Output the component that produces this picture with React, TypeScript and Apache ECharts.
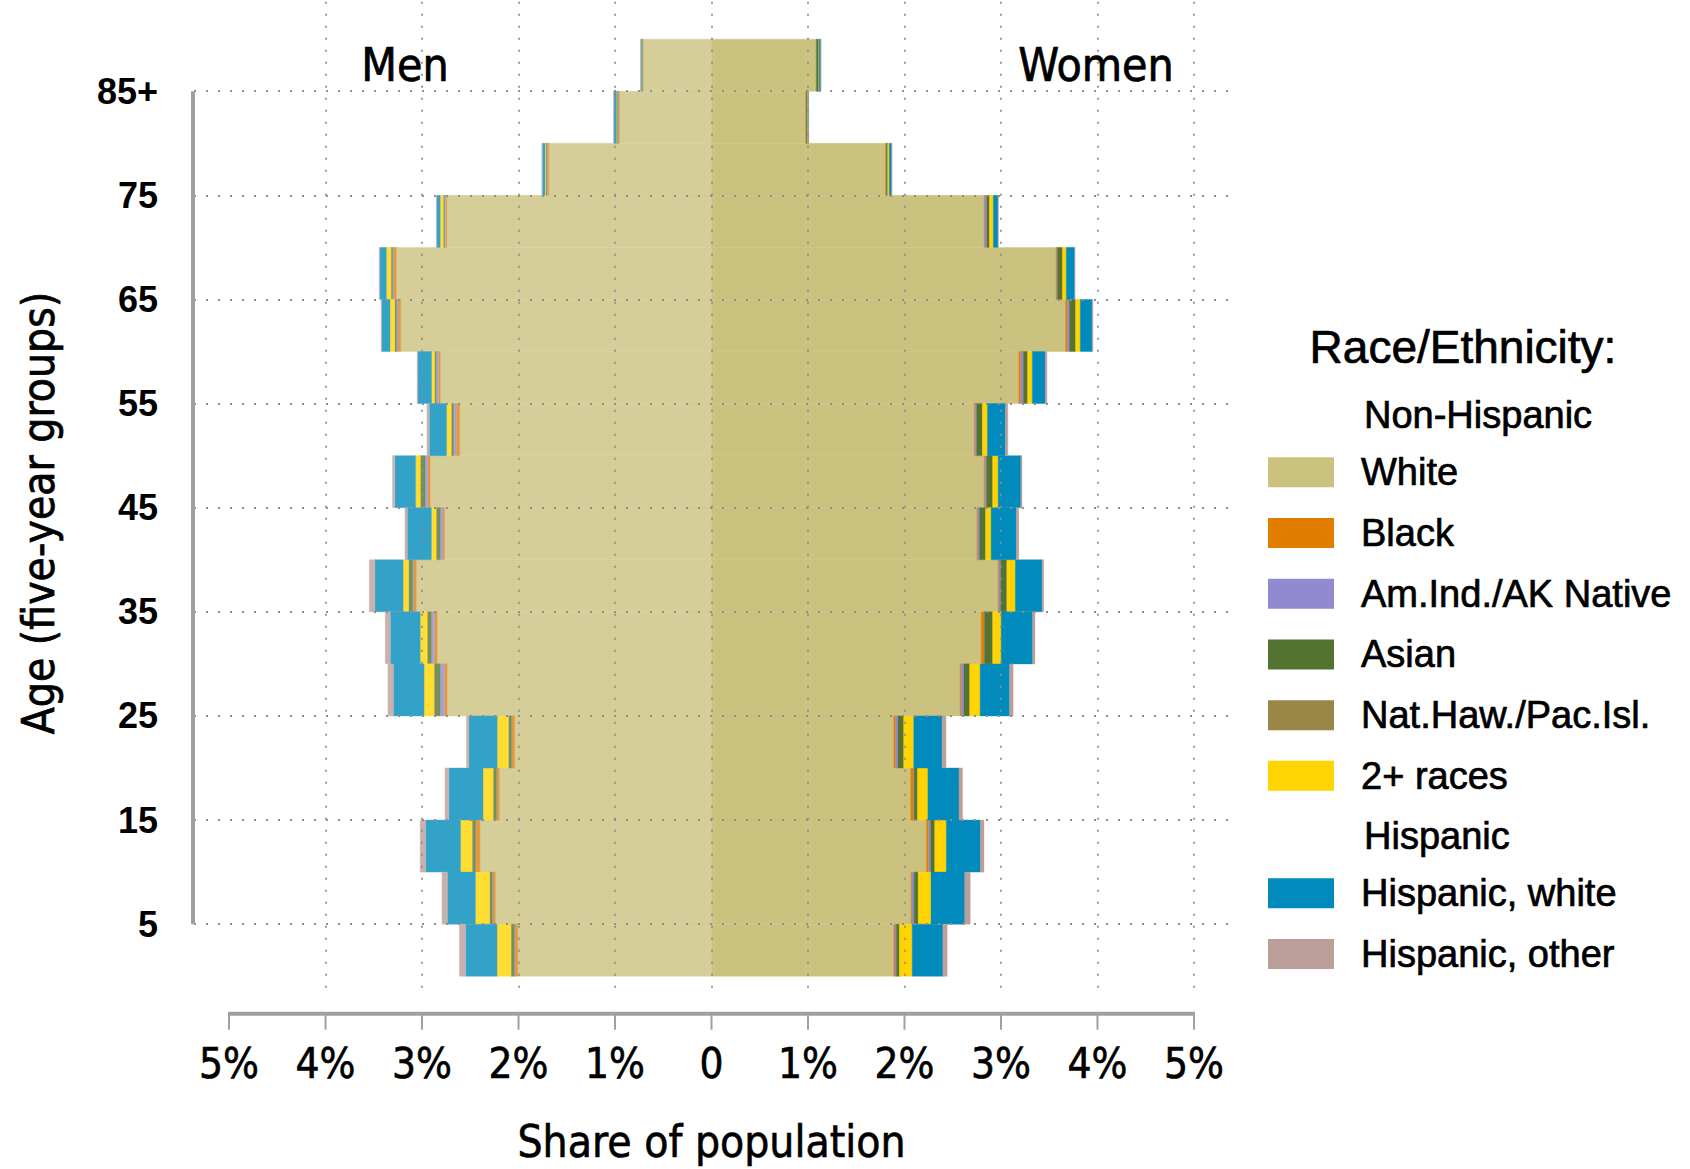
import React, { useEffect, useRef } from "react";
import * as echarts from "echarts";

// ---------- data (percent of total population) ----------
const ageGroups = ["0-4", "5-9", "10-14", "15-19", "20-24", "25-29", "30-34", "35-39", "40-44", "45-49", "50-54", "55-59", "60-64", "65-69", "70-74", "75-79", "80-84", "85+"];
const ageStart = [0, 5, 10, 15, 20, 25, 30, 35, 40, 45, 50, 55, 60, 65, 70, 75, 80, 85];
const ageEnd = [5, 10, 15, 20, 25, 30, 35, 40, 45, 50, 55, 60, 65, 70, 75, 80, 85, 90];

const raceNames = ["White", "Black", "Am.Ind./AK Native", "Asian", "Nat.Haw./Pac.Isl.", "2+ races", "Hispanic, white", "Hispanic, other"];
const raceColors = ["#CAC27E", "#E17E00", "#928AD0", "#537430", "#9A8748", "#FFD400", "#008BBC", "#BC9F99"];

const menWhite = [2.008, 2.24, 2.4, 2.199, 2.04, 2.74, 2.843, 3.06, 2.767, 2.915, 2.61, 2.81, 3.22, 3.268, 2.744, 1.686, 0.954, 0.71];
const menBlack = [0.028, 0.024, 0.04, 0.024, 0.028, 0.028, 0.028, 0.024, 0.016, 0.024, 0.036, 0.02, 0.028, 0.024, 0.012, 0.016, 0.012, 0.006];
const menAmInd = [0.008, 0.008, 0.006, 0.006, 0.006, 0.044, 0.032, 0.012, 0.028, 0.028, 0.028, 0.024, 0.016, 0.012, 0.012, 0.006, 0.004, 0.002];
const menAsian = [0.032, 0.024, 0.032, 0.032, 0.028, 0.06, 0.04, 0.04, 0.04, 0.048, 0.02, 0.012, 0.016, 0.016, 0.01, 0.008, 0.008, 0.006];
const menNatHaw = [0.004, 0.004, 0.004, 0.004, 0.004, 0.004, 0.004, 0.004, 0.004, 0.004, 0.004, 0.004, 0.004, 0.002, 0.002, 0.002, 0.002, 0.001];
const menMulti = [0.143, 0.147, 0.119, 0.103, 0.115, 0.103, 0.072, 0.056, 0.048, 0.048, 0.048, 0.032, 0.048, 0.048, 0.032, 0.008, 0.006, 0.002];
const menHispWhite = [0.326, 0.29, 0.362, 0.354, 0.294, 0.318, 0.31, 0.294, 0.25, 0.215, 0.179, 0.143, 0.087, 0.068, 0.036, 0.028, 0.026, 0.006];
const menHispOther = [0.064, 0.056, 0.056, 0.04, 0.024, 0.056, 0.052, 0.056, 0.024, 0.024, 0.024, 0.006, 0.006, 0.006, 0.004, 0.003, 0.002, 0.001];

const womenWhite = [1.889, 2.068, 2.227, 2.064, 1.889, 2.577, 2.795, 2.97, 2.75, 2.827, 2.724, 3.185, 3.67, 3.571, 2.827, 1.805, 0.978, 1.085];
const womenBlack = [0.012, 0.008, 0.024, 0.032, 0.02, 0.012, 0.032, 0.008, 0.008, 0.008, 0.008, 0.02, 0.02, 0.008, 0.004, 0.004, 0.004, 0.004];
const womenAmInd = [0.016, 0.024, 0.02, 0.004, 0.024, 0.028, 0.004, 0.02, 0.02, 0.016, 0.016, 0.028, 0.02, 0.008, 0.024, 0.004, 0.002, 0.002];
const womenAsian = [0.028, 0.04, 0.04, 0.032, 0.056, 0.056, 0.08, 0.06, 0.06, 0.06, 0.056, 0.04, 0.06, 0.048, 0.024, 0.012, 0.008, 0.02];
const womenNatHaw = [0.004, 0.004, 0.004, 0.004, 0.004, 0.004, 0.004, 0.004, 0.004, 0.004, 0.004, 0.004, 0.004, 0.002, 0.002, 0.002, 0.001, 0.001];
const womenMulti = [0.131, 0.131, 0.119, 0.107, 0.103, 0.107, 0.087, 0.087, 0.056, 0.056, 0.052, 0.048, 0.048, 0.04, 0.04, 0.016, 0.006, 0.004];
const womenHispWhite = [0.318, 0.35, 0.354, 0.322, 0.294, 0.306, 0.326, 0.278, 0.262, 0.235, 0.187, 0.135, 0.123, 0.087, 0.048, 0.024, 0.006, 0.016];
const womenHispOther = [0.044, 0.056, 0.036, 0.036, 0.04, 0.036, 0.024, 0.016, 0.024, 0.012, 0.024, 0.016, 0.008, 0.002, 0.002, 0.002, 0.004, 0.002];

const xTickValues = [-5, -4, -3, -2, -1, 0, 1, 2, 3, 4, 5];
const xGridValues = [-4, -3, -2, -1, 0, 1, 2, 3, 4, 5];
const yTickValues = [5, 15, 25, 35, 45, 55, 65, 75, 85];
const yTickLabels = ["5", "15", "25", "35", "45", "55", "65", "75", "85+"];

// ---------- helpers ----------
const menValues = [menWhite, menBlack, menAmInd, menAsian, menNatHaw, menMulti, menHispWhite, menHispOther];
const womenValues = [womenWhite, womenBlack, womenAmInd, womenAsian, womenNatHaw, womenMulti, womenHispWhite, womenHispOther];

function lighten(hex: string, a: number): string {
  const n = parseInt(hex.slice(1), 16);
  const r = (n >> 16) & 255, g = (n >> 8) & 255, b = n & 255;
  const m = (c: number) => Math.round(255 - a * (255 - c));
  return `rgb(${m(r)},${m(g)},${m(b)})`;
}

function buildSeriesData(): number[][][] {
  const out: number[][][] = raceNames.map(() => []);
  ageGroups.forEach((_, i) => {
    let cm = 0;
    let cw = 0;
    raceNames.forEach((_, k) => {
      const vm = menValues[k][i];
      out[k].push([-cm, -(cm + vm), ageStart[i], ageEnd[i], 1]);
      cm += vm;
      const vw = womenValues[k][i];
      out[k].push([cw, cw + vw, ageStart[i], ageEnd[i], 0]);
      cw += vw;
    });
  });
  return out;
}

const condensed = '"DejaVu Sans Condensed", "DejaVu Sans", sans-serif';
const sansFont = '"Liberation Sans", Arial, sans-serif';
const ink = "#000";

export default function App() {
  const ref = useRef<HTMLDivElement>(null);

  useEffect(() => {
    if (!ref.current) return;
    const chart = echarts.init(ref.current, undefined, { renderer: "svg" });
    const seriesData = buildSeriesData();

    const barSeries = raceNames.map((name, k) => ({
      type: "custom",
      name,
      z: 3,
      itemStyle: { color: raceColors[k] },
      encode: { x: [0, 1], y: [2, 3] },
      data: seriesData[k],
      renderItem: (params: any, api: any) => {
        const p0 = api.coord([api.value(0), api.value(3)]);
        const p1 = api.coord([api.value(1), api.value(2)]);
        const isMen = api.value(4) === 1;
        const fill = isMen ? lighten(raceColors[k], 0.8) : raceColors[k];
        return {
          type: "rect",
          shape: {
            x: Math.min(p0[0], p1[0]),
            y: Math.min(p0[1], p1[1]),
            width: Math.abs(p1[0] - p0[0]),
            height: Math.abs(p1[1] - p0[1]),
          },
          style: { fill, stroke: fill, lineWidth: 0.4 },
        };
      },
    }));

    const gridLineSeries = {
      type: "line",
      name: "grid",
      z: 1,
      data: [],
      silent: true,
      markLine: {
        silent: true,
        symbol: "none",
        animation: false,
        label: { show: false },
        lineStyle: { type: [2, 10], color: "#8f8f8f", width: 1.8 },
        data: [
          ...xGridValues.map((v) => ({ xAxis: v })),
          ...yTickValues.map((v) => ({ yAxis: v })),
        ],
      },
    };

    const legendText = {
      fontSize: 38,
      lineHeight: 30,
      fontFamily: sansFont,
      color: ink,
      padding: [0, 0, 0, 22],
      textBorderColor: ink,
      textBorderWidth: 0.7,
    };

    const option: any = {
      animation: false,
      backgroundColor: "#ffffff",
      grid: { left: 194, right: 461, top: 0, bottom: 173, containLabel: false },
      xAxis: {
        type: "value",
        min: -5.363,
        max: 5.363,
        offset: 23,
        axisLine: { show: false },
        splitLine: { show: false },
        axisTick: { show: false },
        axisLabel: {
          customValues: xTickValues,
          margin: 32,
          fontSize: 42,
          lineHeight: 42,
          fontFamily: condensed,
          color: ink,
          textBorderColor: ink,
          textBorderWidth: 0.6,
          formatter: (v: number) => (v === 0 ? "0" : `${Math.abs(v)}%`),
        },
        name: "Share of population",
        nameLocation: "middle",
        nameGap: 109,
        nameTextStyle: { fontSize: 44, lineHeight: 44, fontFamily: condensed, color: ink, textBorderColor: ink, textBorderWidth: 0.6 },
      },
      yAxis: {
        type: "value",
        min: -1.1,
        max: 93.76,
        axisLine: { show: false },
        splitLine: { show: false },
        axisTick: { show: true, customValues: yTickValues, length: 24, lineStyle: { color: "#a0a0a0", width: 2 } },
        axisLabel: {
          customValues: yTickValues,
          margin: 36,
          fontSize: 36,
          fontWeight: "bold",
          fontFamily: sansFont,
          color: ink,
          formatter: (v: number) => yTickLabels[yTickValues.indexOf(v)] ?? String(v),
        },
      },
      legend: [
        {
          data: raceNames.slice(0, 6),
          orient: "vertical",
          left: 1268,
          top: 453,
          padding: 0,
          itemWidth: 66,
          itemHeight: 30,
          itemGap: 22,
          icon: "rect",
          selectedMode: false,
          textStyle: legendText,
        },
        {
          data: raceNames.slice(6),
          orient: "vertical",
          left: 1268,
          top: 874,
          padding: 0,
          itemWidth: 66,
          itemHeight: 30,
          itemGap: 22,
          icon: "rect",
          selectedMode: false,
          textStyle: legendText,
        },
      ],
      series: [gridLineSeries, ...barSeries],
    };

    chart.setOption(option);

    const xPx = (v: number) => chart.convertToPixel({ xAxisIndex: 0 }, v) as number;
    const yPx = (v: number) => chart.convertToPixel({ yAxisIndex: 0 }, v) as number;
    const xLeft = xPx(xTickValues[0]);
    const xRight = xPx(xTickValues[xTickValues.length - 1]);
    const xMinPx = xPx(-5.363);
    const axisY = yPx(-1.1) + 26;
    const yTopTick = yPx(yTickValues[yTickValues.length - 1]);
    const yBotTick = yPx(yTickValues[0]);
    const axisColor = "#a0a0a0";

    const textEl = (text: string, x: number, y: number, size: number, family: string, align: string, extra: any = {}) => ({
      type: "text",
      x,
      y,
      ...extra,
      style: {
        text,
        fontSize: size,
        fontFamily: family,
        fill: ink,
        stroke: ink,
        lineWidth: 0.7,
        align,
        verticalAlign: "middle",
        textAlign: align,
        textVerticalAlign: "middle",
      },
    });

    const xTicks = xTickValues.map((v, i) => ({
      type: "line",
      id: `xtick${i}`,
      shape: { x1: xPx(v), y1: axisY, x2: xPx(v), y2: axisY + 16 },
      style: { stroke: axisColor, lineWidth: 2 },
      z: 10,
    }));

    chart.setOption({
      graphic: [
        {
          type: "line",
          id: "xaxisline",
          shape: { x1: xLeft - 1, y1: axisY, x2: xRight + 1, y2: axisY },
          style: { stroke: axisColor, lineWidth: 4 },
          z: 10,
        },
        {
          type: "line",
          id: "yaxisline",
          shape: { x1: xMinPx - 1, y1: yTopTick, x2: xMinPx - 1, y2: yBotTick },
          style: { stroke: axisColor, lineWidth: 4 },
          z: 10,
        },
        ...xTicks,
        { id: "men", ...textEl("Men", 405, 65, 46, condensed, "center") },
        { id: "women", ...textEl("Women", 1096, 65, 46, condensed, "center") },
        { id: "ytitle", ...textEl("Age (five-year groups)", 38, 513, 44, condensed, "center", { rotation: Math.PI / 2 }) },
        { id: "legtitle", ...textEl("Race/Ethnicity:", 1463, 347, 46, sansFont, "center") },
        { id: "nonhisp", ...textEl("Non-Hispanic", 1364, 415, 38, sansFont, "left") },
        { id: "hisp", ...textEl("Hispanic", 1364, 836, 38, sansFont, "left") },
      ],
    });

    return () => chart.dispose();
  }, []);

  return (
    <div
      ref={ref}
      style={{ position: "absolute", left: 0, top: 0, width: 1690, height: 1169, background: "#fff" }}
    />
  );
}
